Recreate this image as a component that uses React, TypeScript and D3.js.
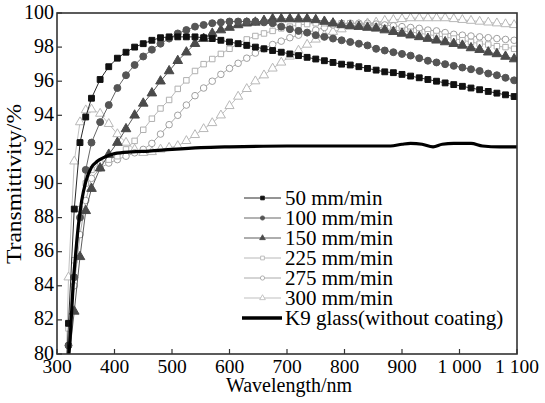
import * as d3 from "d3";
import { useEffect, useRef } from "react";

// wavelengths (nm) where the coated samples were sampled
const wavelengths = [
  315, 320, 330, 340, 350, 360, 375, 390, 405, 420, 435, 450, 465, 480, 495, 510, 525, 540,
  555, 570, 585, 600, 615, 630, 645, 660, 675, 690, 705, 720, 735, 750, 765, 780, 795, 810,
  825, 840, 855, 870, 885, 900, 915, 930, 945, 960, 975, 990, 1005, 1020, 1035, 1050, 1065,
  1080, 1095,
];

const t50 = [
  78, 81.8, 88.5, 92.4, 93.9, 95.0, 96.1, 96.85, 97.35, 97.7, 98.0, 98.2, 98.4, 98.55, 98.6,
  98.6, 98.6, 98.6, 98.55, 98.5, 98.4, 98.3, 98.2, 98.1, 98.0, 97.9, 97.8, 97.7, 97.6, 97.5,
  97.4, 97.3, 97.2, 97.1, 97.0, 96.95, 96.85, 96.75, 96.65, 96.55, 96.5, 96.4, 96.3, 96.2,
  96.1, 96.0, 95.9, 95.8, 95.7, 95.6, 95.5, 95.4, 95.3, 95.2, 95.1,
];
const t100 = [
  77, 80.5, 84.5, 88.0, 90.8, 92.4, 93.6, 94.6, 95.6, 96.35, 96.95, 97.45, 97.85, 98.2, 98.5,
  98.8, 99.0, 99.2, 99.3, 99.4, 99.45, 99.5, 99.5, 99.5, 99.5, 99.45, 99.4, 99.2, 99.05,
  98.95, 98.85, 98.7, 98.6, 98.5, 98.4, 98.3, 98.2, 98.1, 97.9, 97.8, 97.7, 97.6, 97.5, 97.35,
  97.2, 97.1, 97.0, 96.9, 96.8, 96.7, 96.6, 96.45, 96.35, 96.2, 96.05,
];
const t150 = [
  76, 79.5, 82.5, 85.7, 88.4, 89.7, 90.9, 91.7, 92.4, 93.2, 94.0, 94.7, 95.3, 96.0, 96.6, 97.2,
  97.7, 98.2, 98.5, 98.8, 99.0, 99.15, 99.3, 99.4, 99.45, 99.55, 99.65, 99.65, 99.65, 99.65,
  99.65, 99.6, 99.5, 99.4, 99.3, 99.25, 99.2, 99.15, 99.1, 99.0, 98.9, 98.8, 98.7, 98.6, 98.5,
  98.4, 98.3, 98.2, 98.1, 97.95, 97.85, 97.7, 97.6, 97.45, 97.3,
];
const t225 = [
  78, 81.5, 85.5, 88.5, 90.0, 90.8, 91.2, 91.4, 91.6, 92.0, 92.5, 93.15, 93.8, 94.4, 94.9,
  95.55, 96.05, 96.6, 97.0, 97.3, 97.6, 97.9, 98.2, 98.45, 98.65, 98.8, 98.95, 99.1, 99.2,
  99.3, 99.35, 99.4, 99.4, 99.4, 99.4, 99.4, 99.35, 99.3, 99.2, 99.1, 99.0, 98.95, 98.9, 98.8,
  98.75, 98.65, 98.6, 98.5, 98.4, 98.3, 98.2, 98.15, 98.05, 98.0, 97.9,
];
const t275 = [
  77, 80.5, 84.0, 87.0, 89.0, 90.3, 90.9, 91.2, 91.4, 91.6, 91.8, 92.0, 92.35, 92.9, 93.45,
  94.0, 94.6, 95.15, 95.6, 96.0, 96.4, 96.75, 97.05, 97.35, 97.65, 97.9, 98.15, 98.35, 98.55,
  98.7, 98.85, 99.0, 99.15, 99.3, 99.35, 99.4, 99.4, 99.4, 99.35, 99.3, 99.25, 99.2, 99.15,
  99.1, 99.0, 98.95, 98.85, 98.75, 98.7, 98.65, 98.6, 98.55, 98.5, 98.45, 98.4,
];
const t300 = [
  78, 84.5, 91.3, 93.6, 94.3, 94.35, 94.1, 93.5, 92.9, 92.4, 92.0, 91.8, 91.85, 92.0, 92.1,
  92.2, 92.5, 92.85, 93.2, 93.55, 94.0, 94.55, 95.1, 95.55, 96.0, 96.35, 96.75, 97.1, 97.45,
  97.8, 98.15, 98.45, 98.7, 98.9, 99.05, 99.2, 99.3, 99.4, 99.45, 99.55, 99.6, 99.65, 99.7,
  99.7, 99.7, 99.7, 99.7, 99.65, 99.6, 99.55, 99.5, 99.45, 99.4, 99.35, 99.3,
];

// bare K9 substrate
const k9Wavelengths = [
  319, 322, 325, 328, 332, 337, 343, 350, 360, 370, 380, 400, 430, 460, 500, 550, 600, 700,
  800, 880, 900, 915, 935, 954, 970, 990, 1020, 1040, 1070, 1100,
];
const k9T = [
  79.5, 80.5, 82.2, 84.0, 85.7, 87.5, 89.0, 90.1, 90.95, 91.3, 91.5, 91.75, 91.85, 91.9, 92.0,
  92.1, 92.15, 92.2, 92.2, 92.2, 92.3, 92.35, 92.3, 92.15, 92.3, 92.35, 92.35, 92.2, 92.15,
  92.15,
];

const xTicks = [300, 400, 500, 600, 700, 800, 900, 1000, 1100];
const xTickLabels = ["300", "400", "500", "600", "700", "800", "900", "1 000", "1 100"];
const yTicks = [80, 82, 84, 86, 88, 90, 92, 94, 96, 98, 100];

const series = [
  { label: "300 mm/min", values: t300, symbol: d3.symbolTriangle, size: 36, color: "#b8b8b8", fill: "#fff" },
  { label: "275 mm/min", values: t275, symbol: d3.symbolCircle, size: 34, color: "#a0a0a0", fill: "#fff" },
  { label: "225 mm/min", values: t225, symbol: d3.symbolSquare, size: 30, color: "#b0b0b0", fill: "#fff" },
  { label: "150 mm/min", values: t150, symbol: d3.symbolTriangle, size: 40, color: "#4a4a4a", fill: "#4a4a4a" },
  { label: "100 mm/min", values: t100, symbol: d3.symbolCircle, size: 38, color: "#555", fill: "#555" },
  { label: "50 mm/min", values: t50, symbol: d3.symbolSquare, size: 34, color: "#111", fill: "#111" },
];

const FONT = '"Liberation Serif", "Times New Roman", serif';

export default function App() {
  const ref = useRef<SVGSVGElement | null>(null);

  useEffect(() => {
    const width = 545;
    const height = 403;
    const svg = d3.select(ref.current);
    svg.selectAll("*").remove();
    svg.attr("width", width).attr("height", height);

    const x = d3.scaleLinear().domain([300, 1100]).range([57, 517]);
    const y = d3.scaleLinear().domain([80, 100]).range([354, 13]);

    svg
      .append("defs")
      .append("clipPath")
      .attr("id", "plot-clip")
      .append("rect")
      .attr("x", x(300))
      .attr("y", y(100))
      .attr("width", x(1100) - x(300))
      .attr("height", y(80) - y(100));

    const plot = svg.append("g").attr("clip-path", "url(#plot-clip)");
    const line = d3
      .line<number>()
      .x((_, i) => x(wavelengths[i]))
      .y((d) => y(d));

    series.forEach((s) => {
      plot
        .append("path")
        .attr("d", line(s.values))
        .attr("fill", "none")
        .attr("stroke", s.color)
        .attr("stroke-width", 0.9);
      plot
        .selectAll(null)
        .data(s.values)
        .enter()
        .append("path")
        .attr("d", d3.symbol().type(s.symbol).size(s.size)())
        .attr("transform", (d, i) => `translate(${x(wavelengths[i])},${y(d)})`)
        .attr("fill", s.fill)
        .attr("stroke", s.color)
        .attr("stroke-width", 1);
    });

    const k9Line = d3
      .line<number>()
      .x((_, i) => x(k9Wavelengths[i]))
      .y((d) => y(d))
      .curve(d3.curveMonotoneX);
    plot
      .append("path")
      .attr("d", k9Line(k9T))
      .attr("fill", "none")
      .attr("stroke", "#000")
      .attr("stroke-width", 3.2);

    // frame
    svg
      .append("rect")
      .attr("x", x(300))
      .attr("y", y(100))
      .attr("width", x(1100) - x(300))
      .attr("height", y(80) - y(100))
      .attr("fill", "none")
      .attr("stroke", "#333")
      .attr("stroke-width", 1.6);

    // inward ticks
    svg
      .append("g")
      .selectAll("line")
      .data(xTicks)
      .enter()
      .append("line")
      .attr("x1", (d) => x(d))
      .attr("x2", (d) => x(d))
      .attr("y1", y(80))
      .attr("y2", y(80) - 5)
      .attr("stroke", "#333")
      .attr("stroke-width", 1.2);
    svg
      .append("g")
      .selectAll("line")
      .data(yTicks)
      .enter()
      .append("line")
      .attr("x1", x(300))
      .attr("x2", x(300) + 5)
      .attr("y1", (d) => y(d))
      .attr("y2", (d) => y(d))
      .attr("stroke", "#333")
      .attr("stroke-width", 1.2);

    svg
      .append("g")
      .selectAll("text")
      .data(xTicks)
      .enter()
      .append("text")
      .attr("x", (d) => x(d))
      .attr("y", 373)
      .attr("text-anchor", "middle")
      .style("font-family", FONT)
      .style("font-size", "19.5px")
      .text((_, i) => xTickLabels[i]);
    svg
      .append("g")
      .selectAll("text")
      .data(yTicks)
      .enter()
      .append("text")
      .attr("x", 54)
      .attr("y", (d) => y(d) + 5.5)
      .attr("text-anchor", "end")
      .style("font-family", FONT)
      .style("font-size", "20px")
      .text((d) => String(d));

    svg
      .append("text")
      .attr("x", 289)
      .attr("y", 392)
      .attr("text-anchor", "middle")
      .style("font-family", FONT)
      .style("font-size", "20px")
      .text("Wavelength/nm");
    svg
      .append("text")
      .attr("transform", "translate(21,184) rotate(-90)")
      .attr("text-anchor", "middle")
      .attr("textLength", 160)
      .attr("lengthAdjust", "spacingAndGlyphs")
      .style("font-family", FONT)
      .style("font-size", "20px")
      .text("Transmittivity/%");

    // legend
    const legendItems = [...series].reverse();
    const legend = svg.append("g").attr("transform", "translate(244,198)");
    legendItems.forEach((s, i) => {
      const row = legend.append("g").attr("transform", `translate(0,${i * 20})`);
      row
        .append("line")
        .attr("x1", 0)
        .attr("x2", 37)
        .attr("stroke", s.color)
        .attr("stroke-width", 0.9);
      row
        .append("path")
        .attr("d", d3.symbol().type(s.symbol).size(14)())
        .attr("transform", "translate(18.5,0)")
        .attr("fill", s.fill)
        .attr("stroke", s.color)
        .attr("stroke-width", 0.8);
      row
        .append("text")
        .attr("x", 41)
        .attr("y", 7)
        .style("font-family", FONT)
        .style("font-size", "21px")
        .text(s.label);
    });
    const k9Row = legend.append("g").attr("transform", `translate(0,${6 * 20})`);
    k9Row
      .append("line")
      .attr("x1", -2)
      .attr("x2", 38)
      .attr("stroke", "#000")
      .attr("stroke-width", 3.5);
    k9Row
      .append("text")
      .attr("x", 41)
      .attr("y", 7)
      .style("font-family", FONT)
      .style("font-size", "21px")
      .text("K9 glass(without coating)");
  }, []);

  return (
    <div style={{ position: "absolute", left: 0, top: 0, background: "#fff" }}>
      <svg ref={ref} style={{ display: "block" }}></svg>
    </div>
  );
}
